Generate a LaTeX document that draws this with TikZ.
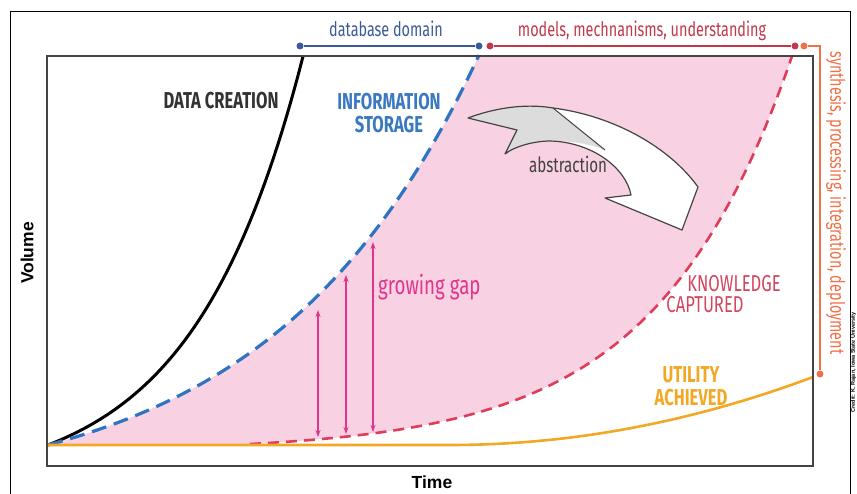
\documentclass[tikz,border=0pt]{standalone}
\usepackage{fontspec}
\setmainfont{Fira Sans}
\newfontfamily\cnd{Fira Sans}[FakeStretch=0.72]
\newfontfamily\arl{Liberation Sans}
\usetikzlibrary{arrows.meta}
\definecolor{pinkfill}{HTML}{F8D2E3}
\definecolor{blueC}{HTML}{2E74C2}
\definecolor{blueT}{HTML}{3A78C0}
\definecolor{blueB}{HTML}{3A5A9A}
\definecolor{redC}{HTML}{E03C5A}
\definecolor{redB}{HTML}{C0384A}
\definecolor{redT}{HTML}{D4455E}
\definecolor{oraC}{HTML}{F2A824}
\definecolor{oraB}{HTML}{F07048}
\definecolor{magC}{HTML}{E0358C}
\definecolor{frameC}{HTML}{444444}
\definecolor{grayA}{HTML}{DCDCDC}
\tikzset{
  curvelbl/.style={inner sep=0pt, font=\cnd\bfseries\fontsize{23}{23}\selectfont, align=center},
  brlbl/.style={inner sep=0pt, anchor=base, font=\cnd\fontsize{20}{20}\selectfont},
  gaparrow/.style={magC, line width=1.3pt, {Stealth[length=7pt,width=5pt]}-{Stealth[length=7pt,width=5pt]}},
  dotc/.style={circle, fill, inner sep=0pt, minimum size=7pt},
  axlbl/.style={inner sep=0pt, font=\arl\bfseries\fontsize{17.5}{18}\selectfont}
}
\begin{document}
\begin{tikzpicture}[x=1pt,y=-1pt]
\useasboundingbox (0,0) rectangle (857,494);
\clip (0,0) rectangle (857,494);
% outer frame
\draw[line width=1pt] (10,12) rectangle (850,530);
% pink gap region
\fill[pinkfill] plot[domain=48:479, samples=80] (\x, {445-56.2*(exp(0.0048*(\x-48))-1)})
  -- plot[domain=792:250, samples=80] (\x, {445-6.17*(exp(0.0074*(\x-230))-1)}) -- cycle;
% curves
\draw[black, line width=3pt] plot[domain=48:303, samples=80] (\x, {445-42.4*(exp(0.0091*(\x-48))-1)});
\draw[blueC, line width=3.2pt, dash pattern=on 15pt off 8pt] plot[domain=48:479, samples=80] (\x, {445-56.2*(exp(0.0048*(\x-48))-1)});
\draw[redC, line width=2.6pt, dash pattern=on 11pt off 7pt] plot[domain=250:792, samples=80] (\x, {445-6.17*(exp(0.0074*(\x-230))-1)});
\draw[oraC, line width=2.6pt] (48,445) -- (450,445) -- plot[domain=450:813, samples=50] (\x, {445-68*((\x-450)/363)^2});
% inner frame
\draw[frameC, line width=2.5pt] (47,56) rectangle (813,466);
% growing gap arrows
\coordinate (g1t) at (318,310); \coordinate (g1b) at (318,437);
\coordinate (g2t) at (346,275); \coordinate (g2b) at (346,434);
\coordinate (g3t) at (373,242); \coordinate (g3b) at (373,432);
\draw[gaparrow] (g1t) -- (g1b);
\draw[gaparrow] (g2t) -- (g2b);
\draw[gaparrow] (g3t) -- (g3b);
% abstraction arrow
\fill[white] (468,118) .. controls (500,106) and (530,104) .. (553,108) .. controls (615,116) and (670,148) .. (698,187) -- (682,230) -- (605,198) -- (631,195) .. controls (626,168) and (592,142) .. (550,141) .. controls (535,141) and (515,146) .. (505,154) -- (517,130) -- cycle;
\fill[grayA] (468,118) .. controls (500,106) and (530,104) .. (553,108) -- (605,150) .. controls (588,143) and (568,141) .. (550,141) .. controls (535,141) and (515,146) .. (505,154) -- (517,130) -- cycle;
\draw[frameC, line width=1.2pt, line join=round] (468,118) .. controls (500,106) and (530,104) .. (553,108) .. controls (615,116) and (670,148) .. (698,187) -- (682,230) -- (605,198) -- (631,195) .. controls (626,168) and (592,142) .. (550,141) .. controls (535,141) and (515,146) .. (505,154) -- (517,130) -- cycle;
\draw[frameC, line width=1pt] (553,108) -- (605,150);
% brackets
\node[dotc, blueB] (bl) at (300,46) {};
\node[dotc, blueB] (br) at (479,46) {};
\draw[blueB, line width=2pt] (bl) -- (br);
\node[dotc, redB] (rl) at (490,46) {};
\node[dotc, redB] (rr) at (795,46) {};
\draw[redB, line width=2pt] (rl) -- (rr);
\node[dotc, oraB] (ot) at (804,46) {};
\node[dotc, oraB] (ob) at (820,374) {};
\coordinate (oc) at (820,46);
\draw[oraB, line width=2pt] (ot) -- (oc) -- (ob);
\node[brlbl, blueB] (tdb) at (386,37) {database domain};
\node[brlbl, redB] (tmod) at (642,37) {models, mechnanisms, understanding};
\node[inner sep=0pt, oraB, rotate=-90, font=\cnd\fontsize{20}{20}\selectfont] (tsyn) at (836,203) {synthesis, processing, integration, deployment};
% curve labels
\node[curvelbl, black!80] (tdc) at (221,101) {DATA CREATION};
\node[curvelbl, blueT] (tis) at (389,113) {INFORMATION\\STORAGE};
\node[curvelbl, redT, font=\cnd\fontsize{23}{23}\selectfont] (tkn) at (734,284) {KNOWLEDGE};
\node[curvelbl, redT, font=\cnd\fontsize{23}{23}\selectfont] (tcap) at (705,305) {CAPTURED};
\node[curvelbl, oraC] (tua) at (691,386) {UTILITY\\ACHIEVED};
\node[inner sep=0pt, anchor=base, black!75, font=\cnd\fontsize{21}{21}\selectfont] (tabs) at (568,173) {abstraction};
\node[inner sep=0pt, anchor=base west, magC, font=\cnd\fontsize{26}{26}\selectfont] (tgap) at (378,295) {growing gap};
% axes
\node[axlbl, rotate=90] (tvol) at (27,253) {Volume};
\node[axlbl] (ttime) at (432,482) {Time};
\node[inner sep=0pt, anchor=east, rotate=90, font=\arl\bfseries\fontsize{5.5}{6}\selectfont] (tcred) at (853.5,312) {Credit: K. Rajan, Iowa State University};
\end{tikzpicture}
\end{document}
